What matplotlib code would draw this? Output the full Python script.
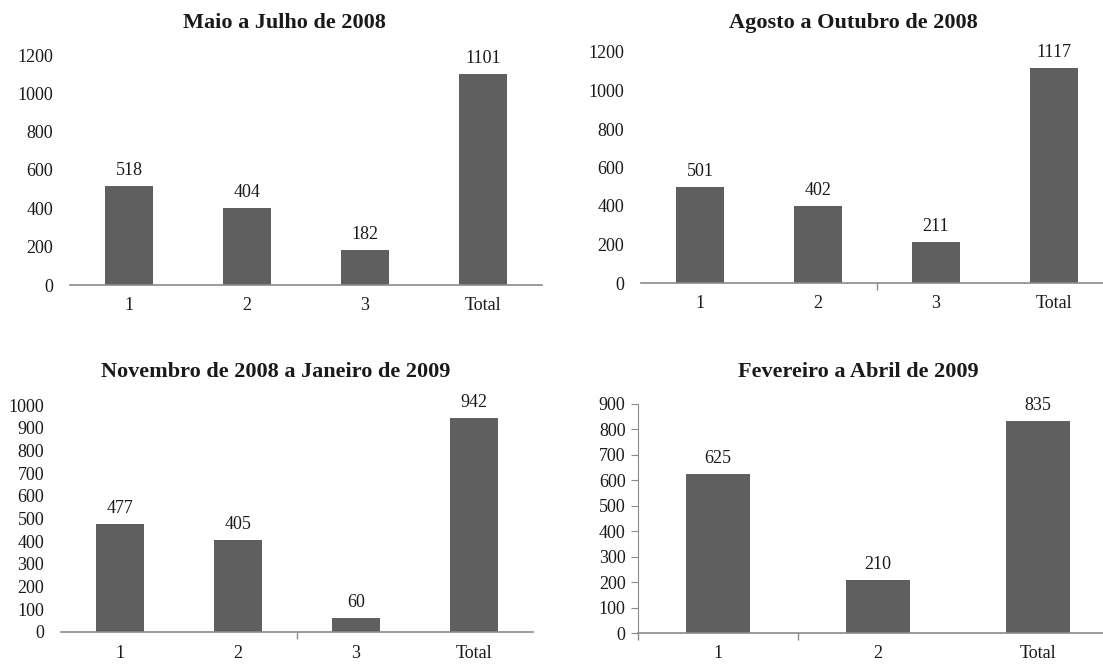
import matplotlib
matplotlib.use("Agg")
import matplotlib.pyplot as plt

plt.rcParams["font.family"] = ["Liberation Serif", "DejaVu Serif"]

# dados
T1 = "Maio a Julho de 2008"
CAT1 = ["1", "2", "3", "Total"]
VAL1 = [518, 404, 182, 1101]

T2 = "Agosto a Outubro de 2008"
CAT2 = ["1", "2", "3", "Total"]
VAL2 = [501, 402, 211, 1117]

T3 = "Novembro de 2008 a Janeiro de 2009"
CAT3 = ["1", "2", "3", "Total"]
VAL3 = [477, 405, 60, 942]

T4 = "Fevereiro a Abril de 2009"
CAT4 = ["1", "2", "Total"]
VAL4 = [625, 210, 835]

BAR = "#5f5f5f"; TXT = "#1a1a1a"; AX = "#8a8a8a"
W, H = 1103, 664
FS = 13

fig = plt.figure(figsize=(W/100, H/100), dpi=100)

def px(l, r, b, t):
    return [l/W, 1-b/H, (r-l)/W, (b-t)/H]

def panel(rect, cats, vals, ymax, step, title, tx, ty, left_spine=False,
          ymarks=(), xmarks=()):
    ax = fig.add_axes(rect)
    x = range(len(cats))
    ax.bar(x, vals, width=0.4, color=BAR)
    ax.set_xlim(-0.5, len(cats)-0.5)
    ax.set_ylim(0, ymax)
    ax.set_yticks(range(0, ymax+1, step))
    ax.set_xticks(list(x)); ax.set_xticklabels(cats)
    # restos de marcas de eixo visíveis na imagem original
    ax.set_yticks(list(ymarks), minor=True)
    ax.set_xticks(list(xmarks), minor=True)
    for s in ("top", "right"): ax.spines[s].set_visible(False)
    ax.spines["left"].set_visible(left_spine)
    ax.spines["left"].set_color(AX); ax.spines["bottom"].set_color(AX)
    ax.spines["bottom"].set_linewidth(1.2)
    ax.tick_params(axis="x", length=0, pad=9, labelsize=FS, colors=TXT)
    ax.tick_params(axis="y", length=5 if left_spine else 0, pad=4 if left_spine else 12,
                   labelsize=FS, colors=TXT, color=AX)
    ax.tick_params(which="minor", length=5, color=AX, width=1)
    for i, v in enumerate(vals):
        ax.annotate(str(v), (i, v), xytext=(0, 5), textcoords="offset points",
                    ha="center", va="bottom", fontsize=FS, color=TXT)
    fig.text(tx/W, 1-ty/H, title, ha="center", va="center", fontsize=16,
             fontweight="bold", color=TXT)
    return ax

panel(px(70, 542, 285, 55), CAT1, VAL1, 1200, 200, T1, 284, 23)
panel(px(641, 1113, 283, 52), CAT2, VAL2, 1200, 200, T2, 853, 23,
      ymarks=[1200, 400], xmarks=[1.5])
panel(px(61, 533, 632, 405), CAT3, VAL3, 1000, 100, T3, 276, 372,
      ymarks=[1000, 200, 100], xmarks=[1.5])
panel(px(638, 1118, 633, 404), CAT4, VAL4, 900, 100, T4, 858, 372, left_spine=True,
      xmarks=[-0.5, 0.5])

fig.savefig("out.png", dpi=100)
